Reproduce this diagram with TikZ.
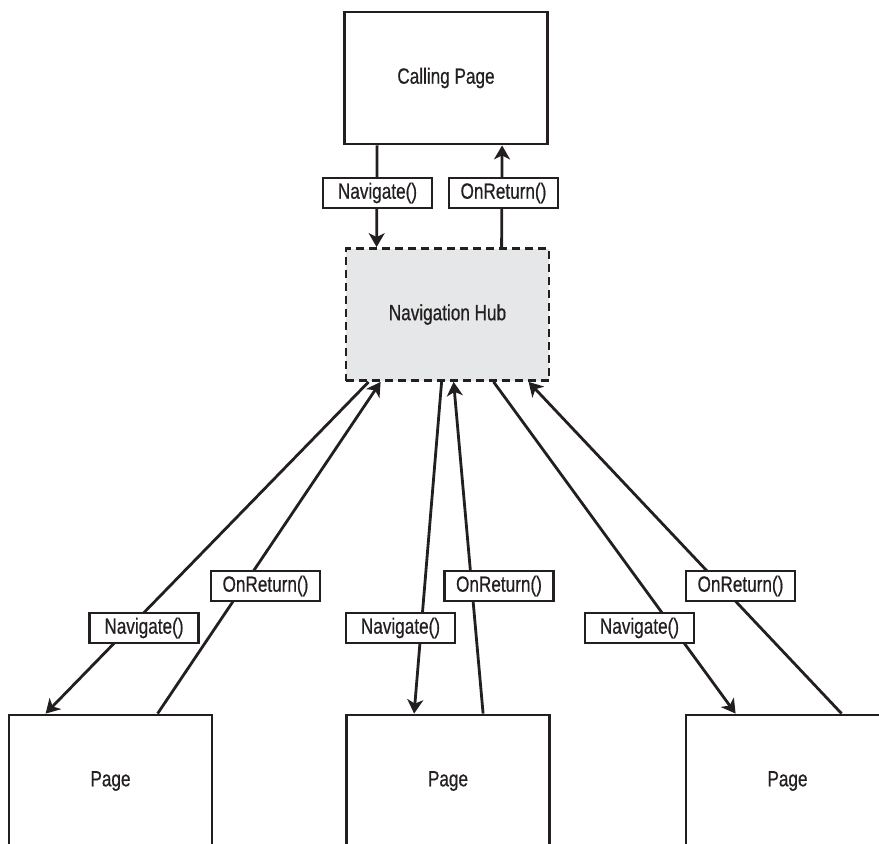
\documentclass[tikz,border=0pt]{standalone}
\usepackage{fontspec}
\setmainfont{Liberation Sans}[FakeStretch=0.78,FakeBold=0.6]
\usetikzlibrary{arrows.meta,calc}
\definecolor{hubgray}{HTML}{E6E7E8}
\definecolor{inkline}{HTML}{231F20}
\begin{document}
\begin{tikzpicture}[x=1pt,y=-1pt,
  pagebox/.style={draw=inkline, line width=2.8pt, minimum width=203pt, minimum height=132pt, inner sep=0pt, text=inkline, font=\fontsize{22}{26}\selectfont},
  hubbox/.style={pagebox, fill=hubgray, dash pattern=on 8pt off 5pt},
  callbox/.style={draw=inkline, fill=white, line width=2.4pt, minimum width=109pt, minimum height=30pt, inner sep=0pt, text=inkline, font=\fontsize{22}{26}\selectfont},
  conn/.style={draw=inkline, line width=2.8pt, -{Stealth[length=14pt,width=16pt,inset=4pt]}}]
\useasboundingbox (0,0) rectangle (879,844);
\clip (0,0) rectangle (879,844);
% nodes
\node[pagebox] (cp) at (446,78) {Calling Page};
\node[hubbox] (hub) at (447.5,314.5) {Navigation Hub};
\node[pagebox] (p1) at (110.5,781) {Page};
\node[pagebox] (p2) at (448,781) {Page};
\node[pagebox] (p3) at (787.5,781) {Page};
% connectors
\draw[conn] ($(cp.south west)+(34,0)$) -- ($(hub.north west)+(32,0)$);
\draw[conn] ($(hub.north west)+(157,0)$) -- ($(cp.south west)+(159,0)$);
\draw[conn] ($(hub.south west)+(24,0)$) -- ($(p1.north west)+(38,0)$);
\draw[conn] ($(p1.north west)+(150,0)$) -- ($(hub.south west)+(36,0)$);
\draw[conn] ($(hub.south west)+(97,0)$) -- ($(p2.north west)+(69,0)$);
\draw[conn] ($(p2.north west)+(138,0)$) -- ($(hub.south west)+(109,0)$);
\draw[conn] ($(hub.south west)+(149,0)$) -- ($(p3.north west)+(51,0)$);
\draw[conn] ($(p3.north west)+(157,0)$) -- ($(hub.south west)+(184,0)$);
% labels
\node[callbox] (l1) at (377.5,193) {Navigate()};
\node[callbox] (l2) at (503.5,193) {OnReturn()};
\node[callbox] (l3) at (144,628) {Navigate()};
\node[callbox] (l4) at (265.5,586) {OnReturn()};
\node[callbox] (l5) at (400.5,628) {Navigate()};
\node[callbox] (l6) at (499,586) {OnReturn()};
\node[callbox] (l7) at (639.5,628) {Navigate()};
\node[callbox] (l8) at (740.5,586) {OnReturn()};
\end{tikzpicture}
\end{document}
